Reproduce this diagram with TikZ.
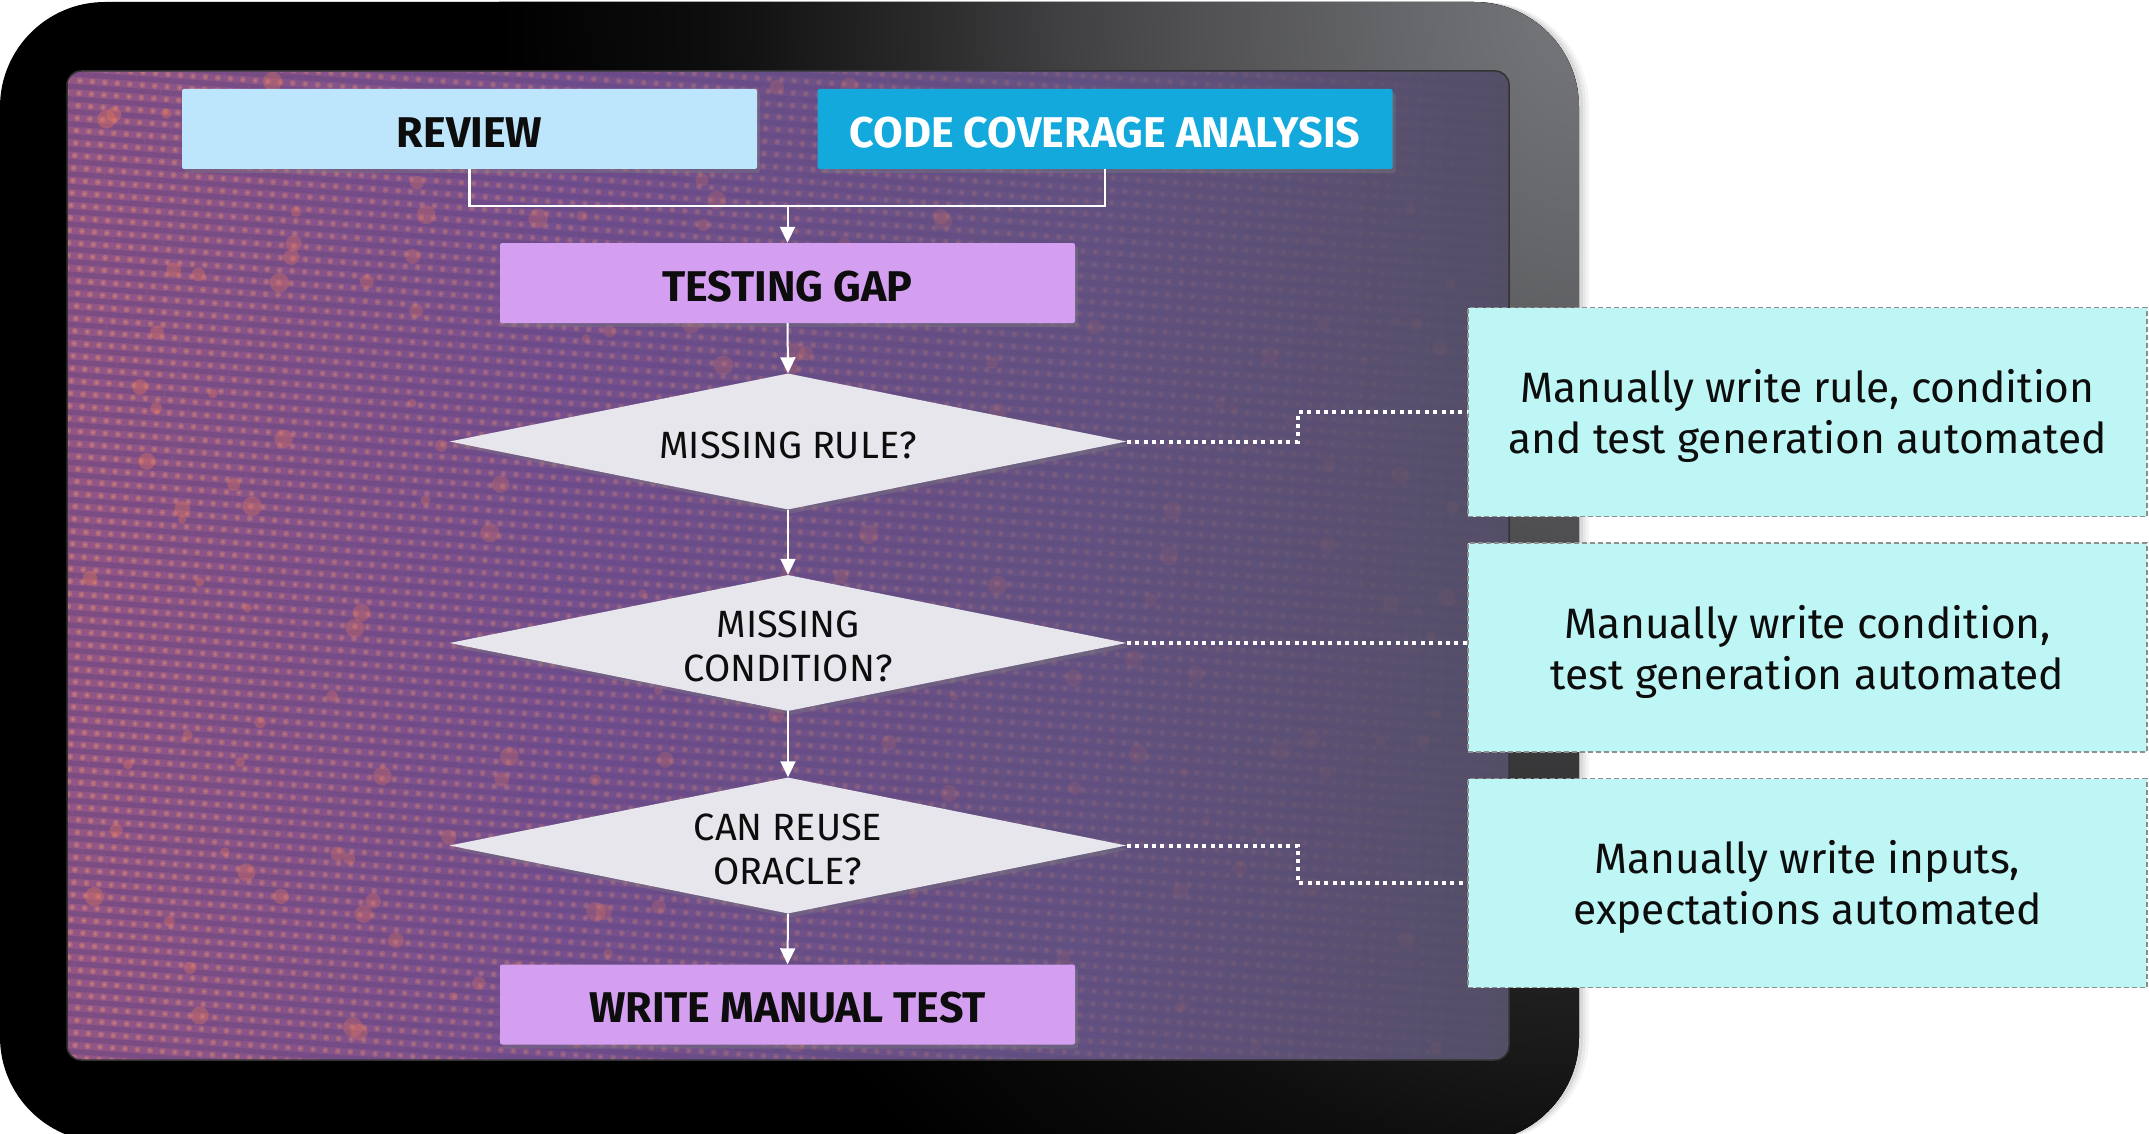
\documentclass[tikz,border=0pt]{standalone}
\usepackage{fontspec}
\setmainfont{Fira Sans}
\usetikzlibrary{arrows.meta,shapes.geometric,shadows,patterns.meta,fadings}

\definecolor{reviewblue}{HTML}{BDE5FB}
\definecolor{covblue}{HTML}{14A9DC}
\definecolor{gapviolet}{HTML}{D49FF0}
\definecolor{diamondgray}{HTML}{E6E6EC}
\definecolor{notecyan}{HTML}{BEF5F5}
\definecolor{notedash}{HTML}{8E8E8E}
\definecolor{scrA}{RGB}{146,86,134}
\definecolor{scrB}{RGB}{118,80,142}
\definecolor{scrC}{RGB}{100,82,130}
\definecolor{scrD}{RGB}{84,79,103}
\definecolor{ledrow}{RGB}{62,50,120}
\definecolor{leddot}{RGB}{232,138,108}
\definecolor{ledcore}{RGB}{255,214,160}
\definecolor{bokeh}{RGB}{228,118,92}
\definecolor{gA}{RGB}{118,119,122}
\definecolor{gB}{RGB}{100,101,104}
\definecolor{gC}{RGB}{80,80,82}
\definecolor{gD}{RGB}{64,64,66}
\definecolor{gE}{RGB}{40,40,41}
\definecolor{gF}{RGB}{14,14,14}

% screen: reddish violet on the left fading to slate on the right
\pgfdeclarehorizontalshading{screenshade}{100bp}{
  color(0bp)=(scrA); color(25bp)=(scrA); color(42bp)=(scrB);
  color(60bp)=(scrC); color(75bp)=(scrD); color(100bp)=(scrD)}
% bezel glow around the upper right corner
\pgfdeclareradialshading{bezelglow}{\pgfpoint{0bp}{0bp}}{
  color(0bp)=(gA); color(4.5bp)=(gB); color(9bp)=(gC); color(12bp)=(gD);
  color(15.5bp)=(gE); color(20bp)=(gF); color(25bp)=(black); color(50bp)=(black)}

% LED panel texture: dark rows with lit dots between them
\tikzdeclarepattern{
  name=ledrows, type=uncolored,
  bounding box={(0pt,-2.6pt) and (12.5pt,2.6pt)},
  tile size={(12.5pt,12.5pt)},
  tile transformation={rotate=-4},
  code={\pgfpathrectangle{\pgfpoint{0pt}{-2.6pt}}{\pgfpoint{12.5pt}{5.2pt}}\pgfusepath{fill}}
}
\tikzdeclarepattern{
  name=leddots, type=uncolored,
  bounding box={(3pt,3pt) and (9.5pt,9.5pt)},
  tile size={(12.5pt,12.5pt)},
  tile transformation={rotate=-4},
  code={\pgfpathcircle{\pgfpoint{6.25pt}{6.25pt}}{3.1pt}\pgfusepath{fill}}
}
\tikzdeclarepattern{
  name=ledcores, type=uncolored,
  bounding box={(5pt,5pt) and (7.5pt,7.5pt)},
  tile size={(12.5pt,12.5pt)},
  tile transformation={rotate=-4},
  code={\pgfpathcircle{\pgfpoint{6.25pt}{6.25pt}}{1.3pt}\pgfusepath{fill}}
}
\tikzfading[name=ledband, left color=transparent!55, middle color=transparent!0,
  right color=transparent!100]

% lifts the first line so text sits a little lower in its box
\newcommand{\padtop}[1]{\rule{0pt}{#1}}

\tikzset{
  flowbox/.style={rectangle, rounded corners=2pt, minimum width=575pt,
    minimum height=80pt, inner sep=0pt, text=black!95,
    font=\fontsize{43}{50}\selectfont\bfseries,
    drop shadow={shadow xshift=3pt, shadow yshift=-4pt, opacity=0.35}},
  decision/.style={diamond, aspect=4.94, inner sep=0pt, minimum width=677pt,
    minimum height=136pt, fill=diamondgray, align=center, text=black!95,
    font=\fontsize{38}{44}\selectfont,
    drop shadow={shadow xshift=3pt, shadow yshift=-4pt, opacity=0.35}},
  notebox/.style={rectangle, fill=notecyan, draw=notedash, line width=1.6pt,
    dash pattern=on 5pt off 3pt, minimum width=679pt, minimum height=209pt,
    inner sep=0pt, align=center, text=black!95,
    font=\fontsize{42.5}{51}\selectfont},
  flowarrow/.style={draw=white, line width=2pt,
    -{Triangle[length=16pt, width=15pt]}},
  feeder/.style={draw=white, line width=2.2pt},
  hint/.style={draw=white, line width=4pt, dash pattern=on 4pt off 4.4pt},
}

\begin{document}
\begin{tikzpicture}[x=1pt, y=-1pt]
\useasboundingbox (0,0) rectangle (2149,1134);

% tablet body with a soft shadow on its right
\foreach \s/\o in {10/0.04, 7/0.05, 4/0.07}
  \fill[black, opacity=\o, rounded corners=105pt] (\s,2) rectangle (1579+\s,1142);
\begin{scope}
  \clip[rounded corners=105pt] (0,2) rectangle (1579,1142);
  \fill[black] (0,0) rectangle (1579,1142);
  \fill[shading=bezelglow] (1579,2) ellipse [x radius=1080, y radius=1450];
\end{scope}

% screen
\fill[shading=screenshade, rounded corners=14pt] (67,71) rectangle (1509,1060);
\begin{scope}
  \clip[rounded corners=14pt] (67,71) rectangle (1509,1060);
  \fill[pattern=ledrows, pattern color=ledrow, opacity=0.55, path fading=ledband]
    (67,71) rectangle (1509,1060);
  \fill[pattern=leddots, pattern color=leddot, opacity=0.8, path fading=ledband]
    (67,71) rectangle (1509,1060);
  \fill[pattern=ledcores, pattern color=ledcore, opacity=0.5, path fading=ledband]
    (67,71) rectangle (1509,1060);
  \pgfmathsetseed{42}
  \foreach \i in {1,...,200}{
    \pgfmathsetmacro{\bx}{80+1380*rnd}
    \pgfmathsetmacro{\by}{80+980*rnd}
    \pgfmathsetmacro{\br}{4+6*rnd}
    \pgfmathsetmacro{\bo}{max(0.06,0.4*(1-(\bx-80)/1420))}
    \fill[bokeh, opacity=\bo] (\bx,\by) circle (\br);
  }
\end{scope}
\draw[black!80, line width=1.5pt, rounded corners=14pt] (67,71) rectangle (1509,1060);

% flow
\node[flowbox, fill=reviewblue] (review) at (469.5,129) {\padtop{37pt}REVIEW};
\node[flowbox, fill=covblue, text=white] (cov) at (1105,129) {\padtop{37pt}CODE COVERAGE ANALYSIS};
\node[flowbox, fill=gapviolet] (gap) at (787.5,283) {\padtop{37pt}TESTING GAP};
\node[decision] (d1) at (788,441.5) {\padtop{34pt}MISSING RULE?};
\node[decision] (d2) at (788,643) {\padtop{34pt}MISSING\\CONDITION?};
\node[decision] (d3) at (788,845.5) {\padtop{34pt}CAN REUSE\\ORACLE?};
\node[flowbox, fill=gapviolet] (manual) at (787.5,1004.5) {\padtop{37pt}WRITE MANUAL TEST};

\coordinate (join) at (787.5,206);
\draw[feeder] (review.south) |- (join) -| (cov.south);
\draw[flowarrow] (join) -- (gap.north);
\draw[flowarrow] (gap.south) -- (d1.north);
\draw[flowarrow] (d1.south) -- (d2.north);
\draw[flowarrow] (d2.south) -- (d3.north);
\draw[flowarrow] (d3.south) -- (manual.north);

% notes
\node[notebox] (n1) at (1807.5,412) {\padtop{42pt}Manually write rule, condition\\and test generation automated};
\node[notebox] (n2) at (1807.5,647.5) {\padtop{42pt}Manually write condition,\\test generation automated};
\node[notebox] (n3) at (1807.5,883) {\padtop{42pt}Manually write inputs,\\expectations automated};

\coordinate (elbow) at (1298,0);
\draw[hint] (d1.east) -- (d1.east -| elbow) |- (n1.west);
\draw[hint] (d2.east) -- (d2.east -| n2.west);
\draw[hint] (d3.east) -- (d3.east -| elbow) |- (n3.west);
\end{tikzpicture}
\end{document}
